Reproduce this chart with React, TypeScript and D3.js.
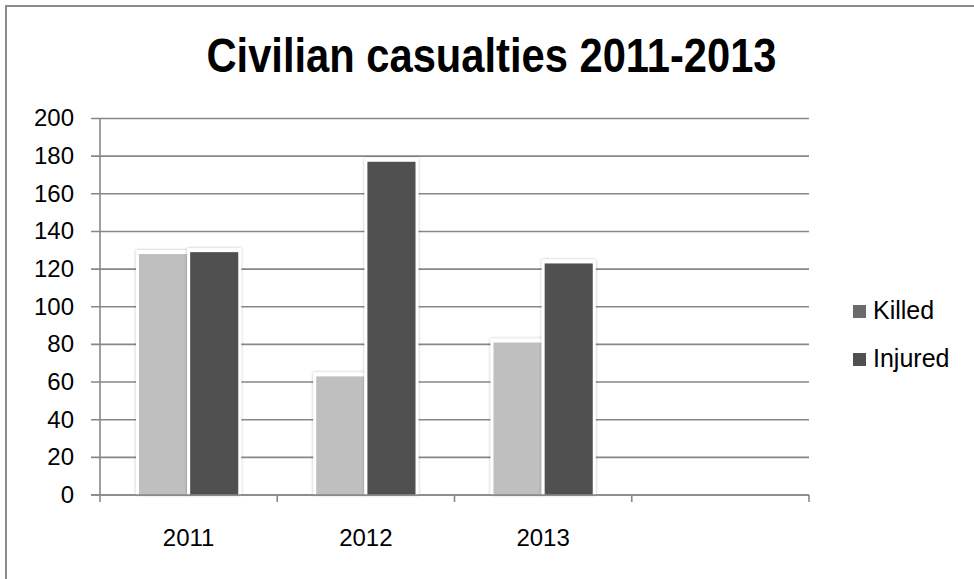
import React from "react";
import * as d3 from "d3";

// Chart data
const categories = ["2011", "2012", "2013", ""];
const seriesNames = ["Killed", "Injured"];
const killed = [128, 63, 81, 0];
const injured = [129, 177, 123, 0];
const yTicks = [0, 20, 40, 60, 80, 100, 120, 140, 160, 180, 200];

const W = 974;
const H = 579;
const plot = { left: 100, right: 809, top: 118.5, bottom: 495 };

const barColors: Record<string, string> = { Killed: "#bfbfbf", Injured: "#505050" };
const legendColors: Record<string, string> = { Killed: "#6b6b6b", Injured: "#505050" };

const textFont = "'Liberation Sans', Arial, sans-serif";

export default function App() {
  const x0 = d3.scaleBand<string>().domain(categories.map((c, i) => c + "#" + i)).range([plot.left, plot.right]);
  const keys = x0.domain();
  const bw = x0.bandwidth();
  const outer = bw * 0.22;
  const x1 = d3
    .scaleBand<string>()
    .domain(seriesNames)
    .range([outer, bw - outer])
    .paddingInner(0.06);
  const y = d3.scaleLinear().domain([0, 200]).range([plot.bottom, plot.top]);

  const values: Record<string, number[]> = { Killed: killed, Injured: injured };

  const gridColor = "#878787";

  return (
    <svg width={W} height={H} style={{ position: "absolute", left: 0, top: 0, background: "#fff" }}>
      <defs>
        <filter id="barShadow" x="-30%" y="-10%" width="160%" height="120%">
          <feGaussianBlur in="SourceAlpha" stdDeviation="1.8" result="blur" />
          <feFlood floodColor="#000" floodOpacity="0.28" />
          <feComposite in2="blur" operator="in" result="shadow" />
          <feMerge>
            <feMergeNode in="shadow" />
            <feMergeNode in="SourceGraphic" />
          </feMerge>
        </filter>
      </defs>

      {/* outer frame */}
      <rect x={6} y={6} width={1000} height={620} fill="#fff" stroke="#8c8c8c" strokeWidth={2} />

      {/* title, set in a narrow bold face */}
      <text
        x={491.5}
        y={72}
        textAnchor="middle"
        fontFamily={textFont}
        fontWeight="bold"
        fontSize={48}
        textLength={570}
        lengthAdjust="spacingAndGlyphs"
        fill="#000"
      >
        Civilian casualties 2011-2013
      </text>

      {/* horizontal gridlines with left tick marks */}
      {yTicks.map((t) => (
        <line
          key={"g" + t}
          x1={plot.left - 9}
          x2={plot.right}
          y1={y(t)}
          y2={y(t)}
          stroke={gridColor}
          strokeWidth={1.6}
        />
      ))}

      {/* value axis */}
      <line x1={plot.left} x2={plot.left} y1={plot.top} y2={plot.bottom} stroke={gridColor} strokeWidth={1.6} />
      {yTicks.map((t) => (
        <text
          key={"yl" + t}
          x={74}
          y={y(t)}
          dy="0.33em"
          textAnchor="end"
          fontFamily={textFont}
          fontSize={24}
          fill="#000"
        >
          {t}
        </text>
      ))}

      {/* bars */}
      {keys.map((k, i) =>
        seriesNames.map((s) => {
          const v = values[s][i];
          if (!v) return null;
          const bx = (x0(k) as number) + (x1(s) as number);
          const by = y(v);
          const w = x1.bandwidth();
          return (
            <g key={k + s}>
              <rect
                x={bx - 3}
                y={by - 4}
                width={w + 6}
                height={plot.bottom - by + 4}
                fill="#fff"
                filter="url(#barShadow)"
              />
              <rect x={bx} y={by} width={w} height={plot.bottom - by} fill={barColors[s]} />
            </g>
          );
        })
      )}

      {/* category axis */}
      <line x1={plot.left - 9} x2={plot.right} y1={plot.bottom} y2={plot.bottom} stroke={gridColor} strokeWidth={1.6} />
      {[...keys.map((k) => x0(k) as number), plot.right].map((tx, i) => (
        <line key={"xt" + i} x1={tx} x2={tx} y1={plot.bottom} y2={plot.bottom + 7} stroke={gridColor} strokeWidth={1.6} />
      ))}
      {keys.map((k, i) => (
        <text
          key={"xl" + i}
          x={(x0(k) as number) + bw / 2}
          y={546}
          textAnchor="middle"
          fontFamily={textFont}
          fontSize={24}
          fill="#000"
        >
          {categories[i]}
        </text>
      ))}

      {/* legend */}
      {seriesNames.map((s, i) => (
        <g key={"lg" + s} transform={`translate(853, ${305 + i * 48})`}>
          <rect x={0} y={0} width={13} height={13} fill={legendColors[s]} />
          <text x={20} y={14} fontFamily={textFont} fontSize={25} fill="#000">
            {s}
          </text>
        </g>
      ))}
    </svg>
  );
}
